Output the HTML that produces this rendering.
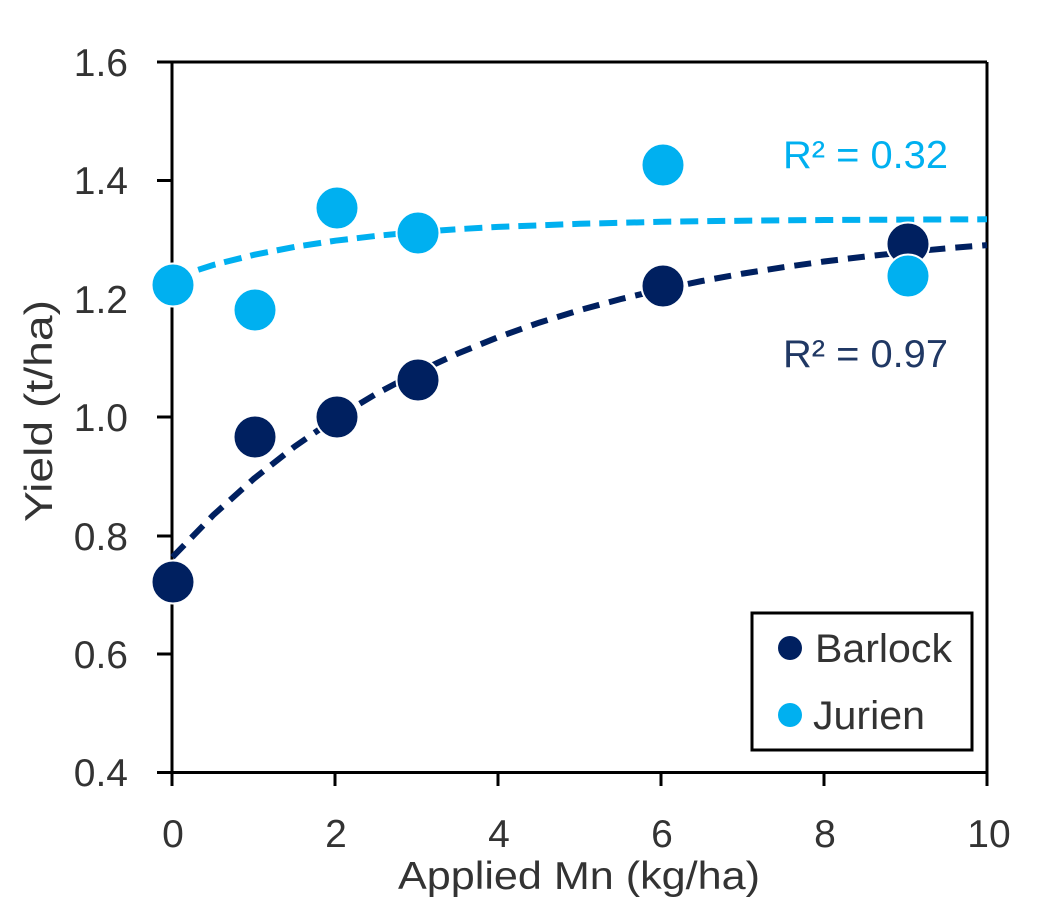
<!DOCTYPE html>
<html><head><meta charset="utf-8"><style>
html,body{margin:0;padding:0;background:#fff;}
svg{display:block;}
text{font-family:"Liberation Sans",sans-serif;}
</style></head><body>
<svg width="1045" height="912" viewBox="0 0 1045 912" xmlns="http://www.w3.org/2000/svg">
<rect width="1045" height="912" fill="#fff"/>
<!-- frame -->
<g stroke="#000" stroke-width="3" fill="none">
<line x1="157" y1="62" x2="987" y2="62"/>
<line x1="987" y1="62" x2="987" y2="786"/>
<line x1="172" y1="62" x2="172" y2="786"/>
<line x1="157" y1="772.5" x2="987" y2="772.5"/>
<line x1="157" y1="180.5" x2="172" y2="180.5"/>
<line x1="157" y1="299" x2="172" y2="299"/>
<line x1="157" y1="417" x2="172" y2="417"/>
<line x1="157" y1="536" x2="172" y2="536"/>
<line x1="157" y1="654" x2="172" y2="654"/>
<line x1="335" y1="772" x2="335" y2="786"/>
<line x1="498" y1="772" x2="498" y2="786"/>
<line x1="661" y1="772" x2="661" y2="786"/>
<line x1="824" y1="772" x2="824" y2="786"/>
</g>
<!-- y tick labels -->
<g font-size="39" fill="#333" text-anchor="end">
<text x="128" y="76">1.6</text>
<text x="128" y="194">1.4</text>
<text x="128" y="313">1.2</text>
<text x="128" y="431">1.0</text>
<text x="128" y="550">0.8</text>
<text x="128" y="668">0.6</text>
<text x="128" y="786">0.4</text>
</g>
<!-- x tick labels -->
<g font-size="39" fill="#333" text-anchor="middle">
<text x="173" y="847">0</text>
<text x="336" y="847">2</text>
<text x="499" y="847">4</text>
<text x="662" y="847">6</text>
<text x="825" y="847">8</text>
<text x="989" y="847">10</text>
</g>
<!-- axis titles -->
<text x="398" y="889" font-size="39" fill="#333" textLength="362" lengthAdjust="spacingAndGlyphs">Applied Mn (kg/ha)</text>
<text transform="translate(52,522) rotate(-90)" font-size="39" fill="#333" textLength="222" lengthAdjust="spacingAndGlyphs">Yield (t/ha)</text>
<!-- trendlines -->
<polyline fill="none" stroke="#00B0F0" stroke-width="6" stroke-dasharray="18 9"
 points="172.5,278.1 213.2,265.0 254,254.8 294.7,246.9 335.4,240.7 376.1,235.9 416.9,232.1 457.6,229.2 498.3,226.9 579.8,223.8 661.2,221.8 742.7,220.7 824.1,220.0 905.6,219.6 987,219.3"/>
<polyline fill="none" stroke="#002060" stroke-width="6" stroke-dasharray="17 10"
 points="172.5,557.1 213.2,515.2 254,478.6 294.7,446.5 335.4,418.4 376.1,393.9 416.9,372.4 457.6,353.6 498.3,337.1 539,322.7 579.8,310.1 620.5,299.1 661.2,289.4 701.9,281.0 742.7,273.6 783.4,267.2 824.1,261.5 864.8,256.6 905.6,252.2 946.3,248.4 987,245.1"/>
<!-- Barlock markers -->
<g fill="#002060" stroke="#fff" stroke-width="2">
<circle cx="173" cy="582" r="21.5"/>
<circle cx="255" cy="437" r="21.5"/>
<circle cx="337" cy="417" r="21.5"/>
<circle cx="418" cy="380" r="21.5"/>
<circle cx="663" cy="286" r="21.5"/>
<circle cx="908" cy="244" r="21.5"/>
</g>
<!-- Jurien markers -->
<g fill="#00B0F0" stroke="#fff" stroke-width="2">
<circle cx="173" cy="285" r="21.5"/>
<circle cx="255" cy="310" r="21.5"/>
<circle cx="337" cy="208" r="21.5"/>
<circle cx="418" cy="233" r="21.5"/>
<circle cx="663" cy="165" r="21.5"/>
<circle cx="908" cy="276" r="21.5"/>
</g>
<!-- R2 labels -->
<text x="783" y="168" font-size="39" fill="#00B0F0" textLength="165" lengthAdjust="spacingAndGlyphs">R² = 0.32</text>
<text x="783" y="367" font-size="39" fill="#203864" textLength="165" lengthAdjust="spacingAndGlyphs">R² = 0.97</text>
<!-- legend -->
<rect x="752" y="613" width="220" height="137" fill="#fff" stroke="#000" stroke-width="3"/>
<circle cx="790" cy="648" r="12" fill="#002060"/>
<circle cx="790" cy="715" r="12" fill="#00B0F0"/>
<text x="815" y="662" font-size="40" fill="#333" textLength="137" lengthAdjust="spacingAndGlyphs">Barlock</text>
<text x="813" y="729" font-size="40" fill="#333" textLength="112" lengthAdjust="spacingAndGlyphs">Jurien</text>
</svg>
</body></html>
